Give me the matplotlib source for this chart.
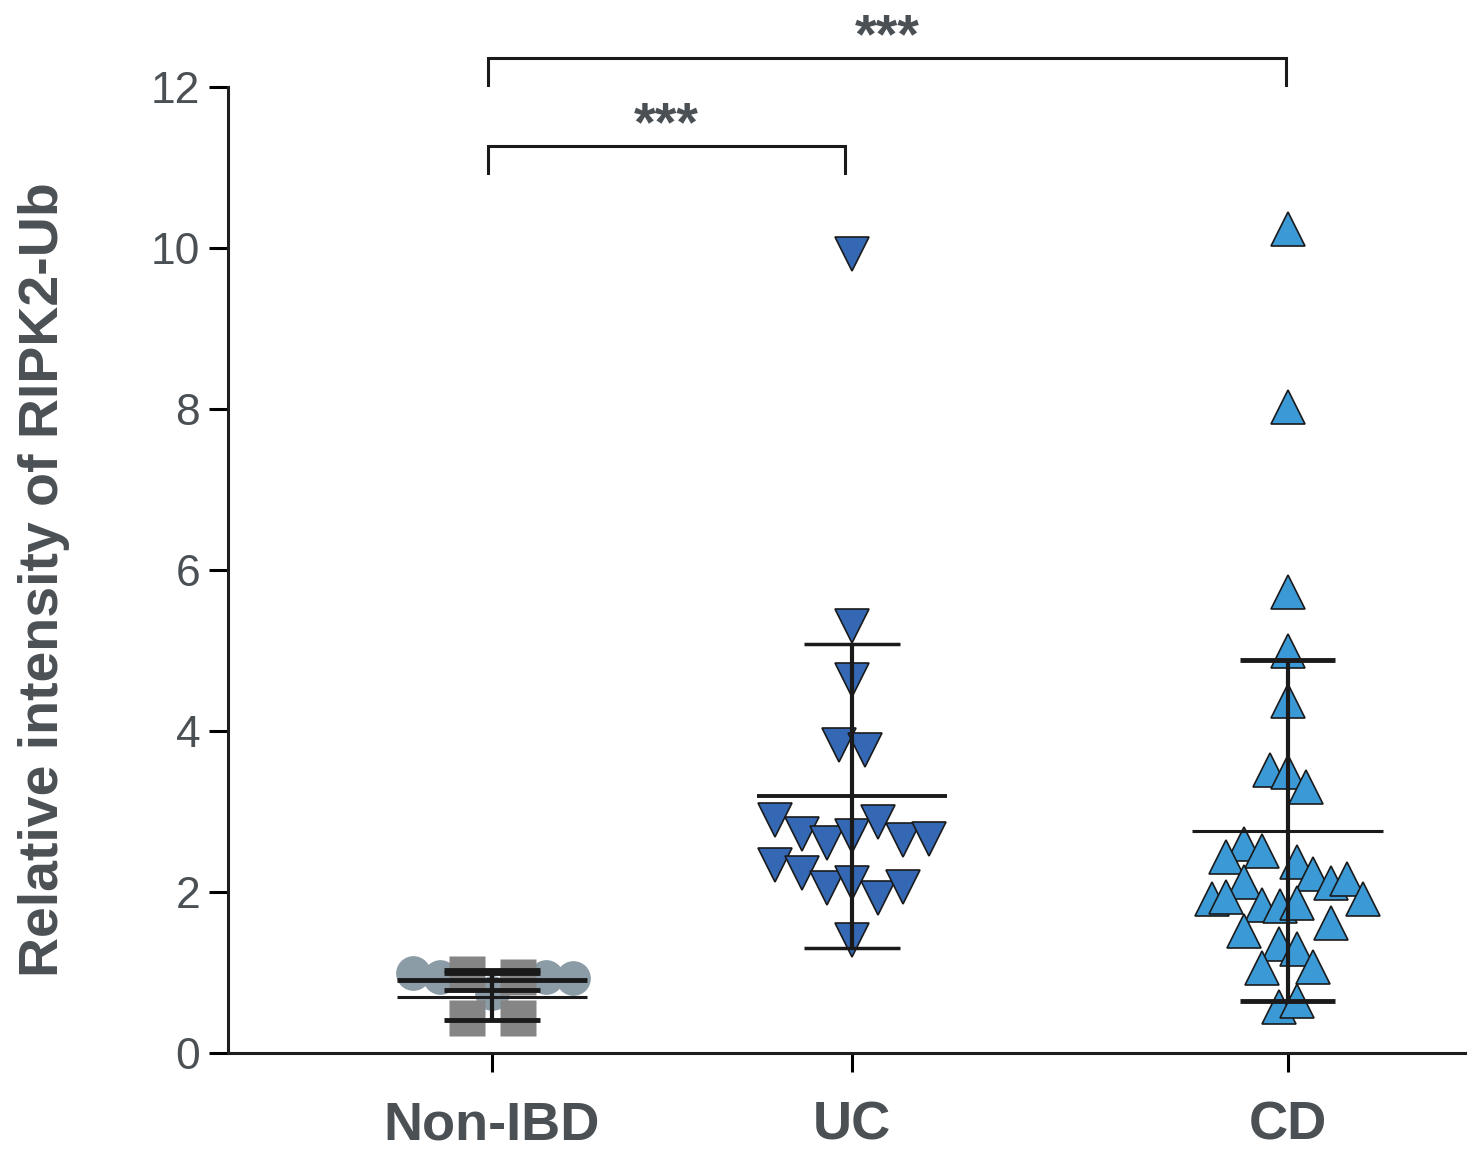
import matplotlib
matplotlib.use("Agg")
import matplotlib.pyplot as plt
import numpy as np

# group labels and x positions of the columns
groups = ["Non-IBD", "UC", "CD"]
group_x = [1.0, 2.0, 3.21]

# Non-IBD: two subsets (circles and squares)
nonibd_circ_y = [0.99, 0.94, 0.745, 0.94, 0.95, 0.93]
nonibd_circ_dx = [-0.22, -0.145, 0.0, 0.07, 0.15, 0.225]
nonibd_sq_y = [0.985, 0.44, 0.94, 0.44]
nonibd_sq_dx = [-0.07, -0.07, 0.072, 0.072]

# UC values (downward triangles)
uc_y = [9.93, 5.30, 4.63, 3.83, 3.77, 2.90, 2.72, 2.61, 2.69, 2.87, 2.64, 2.66,
        2.34, 2.24, 2.05, 2.11, 1.93, 2.06, 1.40]
uc_dx = [0, 0, 0, -0.036, 0.036, -0.214, -0.139, -0.07, 0, 0.072, 0.142, 0.214,
         -0.214, -0.139, -0.07, 0, 0.072, 0.142, 0]

# CD values (upward triangles)
cd_y = [10.24, 8.02, 5.73, 4.99, 4.37, 3.51, 3.49, 3.30, 2.60, 2.51, 2.43, 2.37,
        2.22, 2.11, 2.16, 2.12, 1.91, 1.94, 1.91, 1.84, 1.82, 1.86, 1.62, 1.52,
        1.36, 1.29, 1.06, 1.07, 0.57, 0.65]
cd_dx = [0, 0, 0, 0, 0, -0.05, 0, 0.05, -0.12, -0.07, -0.17, 0.025,
         0.07, 0.12, 0.165, -0.12, -0.21, -0.17, 0.21, -0.07, -0.02, 0.025, 0.12, -0.12,
         -0.025, 0.025, -0.07, 0.07, -0.025, 0.025]

# mean +/- SD as drawn
nonibd_circ_stats = (0.907, 0.125)
nonibd_sq_stats = (0.70, 0.29)
uc_stats = (3.19, 1.89)
cd_stats = (2.76, 2.12)

# significance brackets: (left group, right group, stars)
brackets = [(0, 1, "***"), (0, 2, "***")]

txt = "#4b5055"
sans = ["Liberation Sans", "DejaVu Sans"]

fig = plt.figure(figsize=(14.82, 11.6), dpi=100)
ax = fig.add_axes([228/1482, 107/1160, (1465-228)/1482, (1053-87)/1160])

ax.spines["right"].set_visible(False)
ax.spines["top"].set_visible(False)
for s in ["left", "bottom"]:
    ax.spines[s].set_linewidth(2.2)
    ax.spines[s].set_color("#1e1e1e")

# points
ax.plot(group_x[0] + np.array(nonibd_circ_dx), nonibd_circ_y, "o", ms=25,
        color="#8b9ca6", mec="none", zorder=2)
ax.plot(group_x[0] + np.array(nonibd_sq_dx), nonibd_sq_y, "s", ms=26,
        color="#858585", mec="none", zorder=3)
ax.plot(group_x[1] + np.array(uc_dx), uc_y, "v", ms=25,
        color="#3468b4", mec="#1a1a1a", mew=1.2, zorder=3)
ax.plot(group_x[2] + np.array(cd_dx), cd_y, "^", ms=25,
        color="#3b99d6", mec="#1a1a1a", mew=1.2, zorder=3)

# mean and SD lines
def mean_sd(x, m, sd, lw_mean=3.0, lw_cap=3.5):
    ax.hlines(m, x - 0.264, x + 0.264, color="#1a1a1a", lw=lw_mean, zorder=5)
    ax.hlines([m - sd, m + sd], x - 0.133, x + 0.133, color="#1a1a1a", lw=lw_cap, zorder=5)
    ax.vlines(x, m - sd, m + sd, color="#1a1a1a", lw=3.0, zorder=5)

mean_sd(group_x[0], *nonibd_circ_stats, lw_mean=3.5)
mean_sd(group_x[0], *nonibd_sq_stats, lw_mean=2.2)
mean_sd(group_x[1], *uc_stats, lw_mean=2.8, lw_cap=2.5)
mean_sd(group_x[2], *cd_stats, lw_mean=2.2, lw_cap=3.5)

# brackets
bracket_y = [11.27, 12.36]
for (a, b, s), yb in zip(brackets, bracket_y):
    xa = group_x[a] - 0.01
    xb = group_x[b] - (0.02 if b == 1 else 0.005)
    ax.plot([xa, xa, xb, xb], [yb - 0.34, yb, yb, yb - 0.34], color="#1a1a1a",
            lw=2.2, clip_on=False, solid_joinstyle="miter")
    ax.text((xa + xb) / 2, yb + 0.24, s, ha="center", va="center", fontsize=40,
            fontweight="bold", color=txt, clip_on=False, family=sans)

ax.set_xlim(0.267, 3.703)
ax.set_ylim(0, 12)
ax.set_yticks(range(0, 13, 2))
ax.set_xticks(group_x)
ax.set_xticklabels(groups, fontsize=39, fontweight="bold", color=txt, family=sans)
ax.tick_params(axis="y", length=14, width=2.2, labelsize=32, labelcolor=txt, pad=6)
ax.tick_params(axis="x", length=14, width=2.2, pad=20)
for lab in ax.get_yticklabels():
    lab.set_family(sans)

ax.set_ylabel("Relative intensity of RIPK2-Ub", fontsize=40, fontweight="bold",
              color=txt, family=sans)
ax.yaxis.set_label_coords(-0.128, 0.49)

fig.savefig("out.png", dpi=100)
